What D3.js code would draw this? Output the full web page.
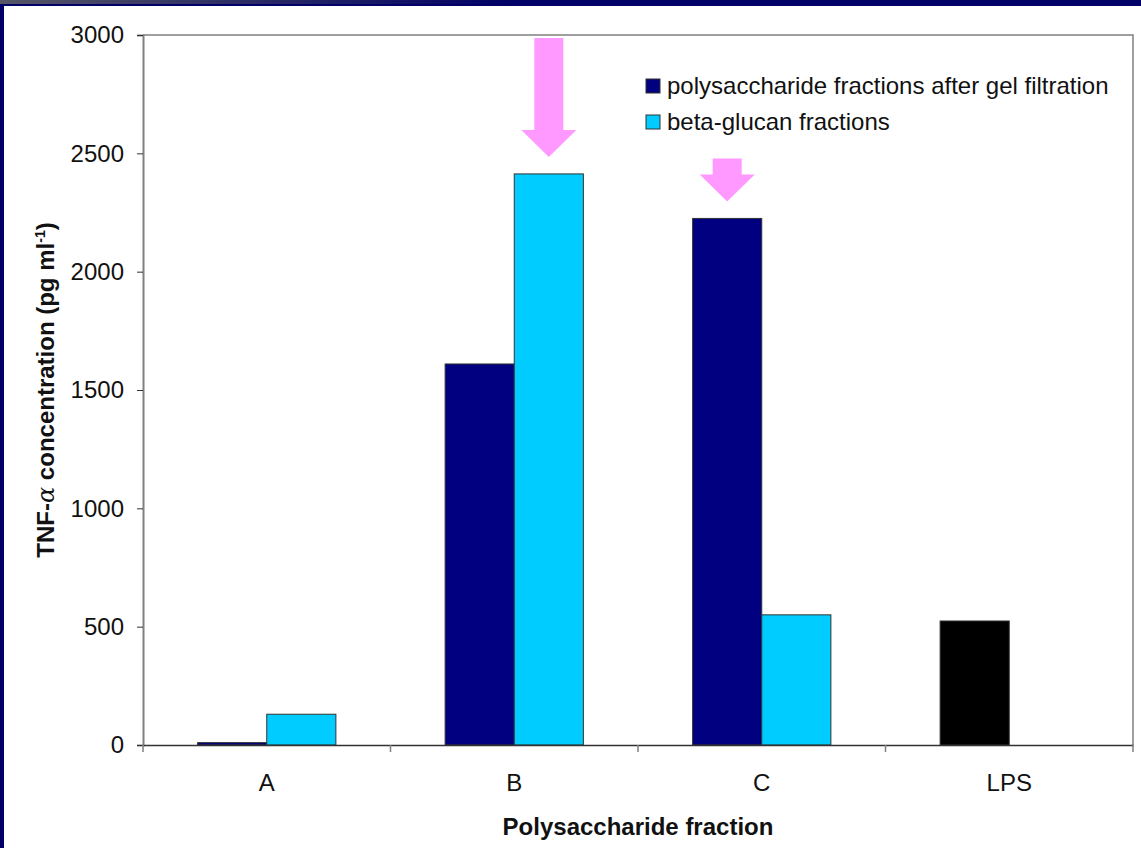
<!DOCTYPE html>
<html><head><meta charset="utf-8">
<script src="https://cdn.jsdelivr.net/npm/d3@7"></script>
<style>body{margin:0;background:#000066;}svg{display:block;}</style>
</head><body>
<svg id="c" width="1141" height="848"></svg>
<script>
const categories = ["A", "B", "C", "LPS"];
const seriesNames = ["polysaccharide fractions after gel filtration", "beta-glucan fractions"];
const polysaccharide = [10, 1610, 2225, 524];
const betaGlucan = [130, 2413, 550, null];
const yTicks = [0, 500, 1000, 1500, 2000, 2500, 3000];
const arrowTargets = [{cat: "B", series: 1}, {cat: "C", series: 0}];

const svg = d3.select("#c");
const W = 1141, H = 848;
const FONT = "Liberation Sans, Arial, sans-serif";
const defs = svg.append("defs");
const g1 = defs.append("linearGradient").attr("id","topg").attr("x1","0").attr("x2","1");
g1.append("stop").attr("offset","0").attr("stop-color","#555566");
g1.append("stop").attr("offset","0.45").attr("stop-color","#000066");
svg.append("rect").attr("width",W).attr("height",H).attr("fill","#000066");
svg.append("rect").attr("x",0).attr("y",0).attr("width",W).attr("height",4).attr("fill","url(#topg)");
svg.append("rect").attr("x",4).attr("y",6).attr("width",W-4).attr("height",H-6).attr("fill","#ffffff");

const m = {left:143, right:1133, top:35, bottom:745};
const x0 = d3.scaleBand().domain(categories).range([m.left, m.right]).paddingInner(0).paddingOuter(0);
const x1 = d3.scaleBand().domain([0,1]).range([0, x0.bandwidth()]).paddingInner(0).paddingOuter(0.79);
const y = d3.scaleLinear().domain([0, 3000]).range([m.bottom, m.top]);

const colors = ["#000080", "#00CCFF"];
const data = [];
categories.forEach((c,i)=>{
  data.push({cat:c, s:0, v:polysaccharide[i], color: c==="LPS" ? "#000000" : colors[0]});
  if (betaGlucan[i] != null) data.push({cat:c, s:1, v:betaGlucan[i], color: colors[1]});
});

svg.append("path").attr("d",`M${m.left},${m.top}H${m.right}V${m.bottom}`).attr("fill","none").attr("stroke","#808080").attr("stroke-width",1.5);

svg.append("g").selectAll("rect").data(data).join("rect")
  .attr("x", d=>x0(d.cat)+x1(d.s))
  .attr("y", d=>y(d.v))
  .attr("width", x1.bandwidth())
  .attr("height", d=>y(0)-y(d.v))
  .attr("fill", d=>d.color)
  .attr("stroke","#333333").attr("stroke-width",1);

const ya = svg.append("g").attr("transform",`translate(${m.left},0)`)
  .call(d3.axisLeft(y).tickValues(yTicks).tickSize(6).tickPadding(13).tickFormat(d3.format("d")));
ya.select(".domain").attr("stroke","#808080").attr("stroke-width",2);
ya.selectAll(".tick line").attr("stroke","#333").attr("stroke-width",1);
ya.selectAll("text").attr("font-family",FONT).attr("font-size",24).attr("fill","#111");

const xa = svg.append("g").attr("transform",`translate(0,${m.bottom})`)
  .call(d3.axisBottom(x0).tickSize(0).tickPadding(29));
xa.select(".domain").attr("stroke","#333").attr("stroke-width",1.5);
xa.selectAll("text").attr("font-family",FONT).attr("font-size",24).attr("fill","#111");
const bounds = categories.map(c=>x0(c)).concat([m.right]);
svg.append("g").selectAll("line").data(bounds).join("line")
  .attr("x1",d=>d).attr("x2",d=>d).attr("y1",m.bottom).attr("y2",m.bottom+7)
  .attr("stroke","#808080").attr("stroke-width",1.5);

svg.append("text").attr("x",(m.left+m.right)/2).attr("y",835).attr("text-anchor","middle")
  .attr("font-family",FONT).attr("font-weight","bold").attr("font-size",24).attr("fill","#111")
  .text("Polysaccharide fraction");
const yt = svg.append("text").attr("transform",`translate(54,${(m.top+m.bottom)/2}) rotate(-90)`).attr("text-anchor","middle")
  .attr("font-family",FONT).attr("font-weight","bold").attr("font-size",24).attr("fill","#111");
yt.append("tspan").text("TNF-");
yt.append("tspan").attr("font-family","DejaVu Serif, serif").attr("font-style","italic").attr("font-weight","normal").text("α");
yt.append("tspan").text(" concentration (pg ml");
yt.append("tspan").attr("font-size",14).attr("dy",-9).text("-1");
yt.append("tspan").attr("dy",9).text(")");

const lg = svg.append("g").attr("transform","translate(646,79)");
seriesNames.forEach((n,i)=>{
  const row = lg.append("g").attr("transform",`translate(0,${i*36})`);
  row.append("rect").attr("width",14).attr("height",14).attr("fill",colors[i]).attr("stroke","#333").attr("stroke-width",1);
  row.append("text").attr("x",21).attr("y",15).attr("font-family",FONT).attr("font-size",24).attr("fill","#111").text(n);
});

arrowTargets.forEach(a=>{
  const ci = categories.indexOf(a.cat);
  const v = a.series===0 ? polysaccharide[ci] : betaGlucan[ci];
  const cx = x0(a.cat)+x1(a.series)+x1.bandwidth()/2;
  const tipY = y(v) - 17;
  const headH = 27, shaftW = 29, headW = 55;
  const topY = tipY - (a.series===1 ? 119 : 43);
  const p = d3.path();
  p.moveTo(cx-shaftW/2, topY); p.lineTo(cx+shaftW/2, topY);
  p.lineTo(cx+shaftW/2, tipY-headH); p.lineTo(cx+headW/2, tipY-headH);
  p.lineTo(cx, tipY); p.lineTo(cx-headW/2, tipY-headH);
  p.lineTo(cx-shaftW/2, tipY-headH); p.closePath();
  svg.append("path").attr("d",p.toString()).attr("fill","#FF99FF");
});
</script>
</body></html>
